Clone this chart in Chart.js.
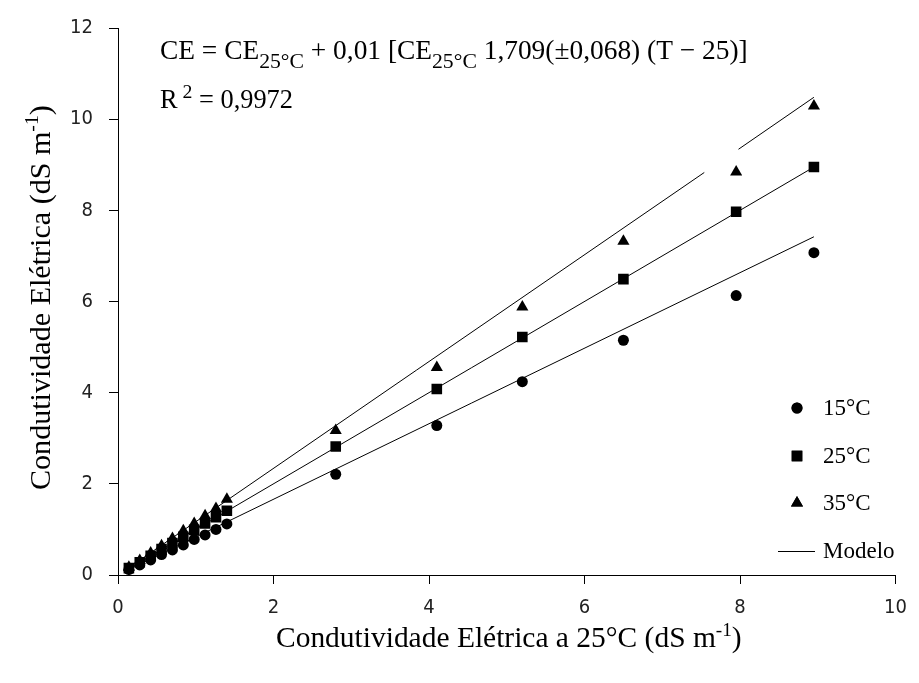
<!DOCTYPE html>
<html lang="pt">
<head>
<meta charset="UTF-8" />
<title>Condutividade Elétrica</title>
<script src="https://cdn.jsdelivr.net/npm/chart.js"></script>
<style>
  body { margin: 0; background: #fff; }
  canvas { display: block; }
</style>
</head>
<body>
<canvas id="ceChart" width="919" height="683"></canvas>
<script>
// CE a 25 °C (eixo x), igual para as tres temperaturas
const ce25x = [0.14, 0.28, 0.42, 0.56, 0.70, 0.84, 0.98, 1.12, 1.26, 1.40, 2.80, 4.10, 5.20, 6.50, 7.95, 8.95];
const ce15 = [0.12, 0.22, 0.33, 0.45, 0.55, 0.66, 0.78, 0.88, 1.00, 1.12, 2.21, 3.28, 4.24, 5.15, 6.13, 7.07];
const ce25 = [0.15, 0.28, 0.42, 0.57, 0.70, 0.84, 0.99, 1.13, 1.27, 1.41, 2.82, 4.08, 5.22, 6.49, 7.97, 8.95];
const ce35 = [0.17, 0.32, 0.48, 0.64, 0.80, 0.97, 1.13, 1.30, 1.46, 1.66, 3.17, 4.55, 5.88, 7.32, 8.84, 10.29];

// linhas do modelo (a de 35 °C tem um corte perto de x = 7,8)
const model15x = [0.14, 8.95];
const model15y = [0.12, 7.42];
const model25x = [0.14, 8.95];
const model25y = [0.14, 8.95];
const model35x = [0.14, 7.54, 7.76, 7.98, 8.95];
const model35y = [0.16, 8.83, null, 9.34, 10.48];

const xTicks = [0, 2, 4, 6, 8, 10];
const yTicks = [0, 2, 4, 6, 8, 10, 12];
const legendLabels = ['15°C', '25°C', '35°C', 'Modelo'];

const pts = (xs, ys) => xs.map((x, i) => ({ x: x, y: ys[i] }));
const SERIF = '"Liberation Serif", "Times New Roman", serif';
const TICKFONT = { family: '"DejaVu Sans Condensed", "Liberation Sans", Arial, sans-serif', size: 20 };

// texto com partes em indice / expoente
function richWidth(ctx, parts, scale) {
  let w = 0;
  parts.forEach(p => {
    ctx.font = (p.size * scale) + 'px ' + SERIF;
    w += ctx.measureText(p.t).width;
  });
  return w;
}
function drawRich(ctx, parts, x, y, targetW) {
  const scale = targetW ? targetW / richWidth(ctx, parts, 1) : 1;
  ctx.textBaseline = 'alphabetic';
  ctx.textAlign = 'left';
  parts.forEach(p => {
    ctx.font = (p.size * scale) + 'px ' + SERIF;
    ctx.fillText(p.t, x, y + (p.dy || 0) * scale);
    x += ctx.measureText(p.t).width;
  });
}

const textPlugin = {
  id: 'textPlugin',
  afterDraw(chart) {
    const ctx = chart.ctx;
    ctx.save();
    ctx.fillStyle = '#000';

    // equacao
    const sub = { size: 19, dy: 8 };
    drawRich(ctx, [
      { t: 'CE = CE', size: 24 }, Object.assign({ t: '25°C' }, sub),
      { t: ' + 0,01 [CE', size: 24 }, Object.assign({ t: '25°C' }, sub),
      { t: ' 1,709(±0,068) (T \u2212 25)]', size: 24 }
    ], 160, 59, 588);
    drawRich(ctx, [
      { t: 'R', size: 24 }, { t: ' 2', size: 18, dy: -9 }, { t: ' = 0,9972', size: 24 }
    ], 160, 108, 133);

    // titulo eixo x
    drawRich(ctx, [
      { t: 'Condutividade Elétrica a 25°C (dS m', size: 26 },
      { t: '-1', size: 17, dy: -10 }, { t: ')', size: 26 }
    ], 276, 647, 466);

    // titulo eixo y
    ctx.translate(50, 298);
    ctx.rotate(-Math.PI / 2);
    drawRich(ctx, [
      { t: 'Condutividade Elétrica (dS m', size: 26 },
      { t: '-1', size: 17, dy: -10 }, { t: ')', size: 26 }
    ], -192, 0, 385);
    ctx.setTransform(1, 0, 0, 1, 0, 0);

    // legenda
    const lx = 797, tx = 823;
    const rows = [408, 456, 503, 551];
    const styles = ['circle', 'rect', 'triangle'];
    const radii = [5.5, 7.5, 7];
    for (let i = 0; i < 3; i++) {
      Chart.helpers.drawPoint(ctx, { pointStyle: styles[i], radius: radii[i], borderWidth: 0 }, lx, rows[i]);
      ctx.fill();
    }
    ctx.strokeStyle = '#000';
    ctx.lineWidth = 1;
    ctx.beginPath();
    ctx.moveTo(778, rows[3] + 0.5);
    ctx.lineTo(815, rows[3] + 0.5);
    ctx.stroke();
    ctx.font = '23px ' + SERIF;
    ctx.textBaseline = 'middle';
    ctx.textAlign = 'left';
    legendLabels.forEach((t, i) => ctx.fillText(t, tx, rows[i] + 1));
    ctx.restore();
  }
};

const lineStyle = {
  type: 'line', showLine: true, borderColor: '#000', borderWidth: 1,
  pointRadius: 0, spanGaps: false, fill: false, order: 2
};

new Chart(document.getElementById('ceChart'), {
  type: 'scatter',
  data: {
    datasets: [
      { label: '15°C', data: pts(ce25x, ce15), pointStyle: 'circle', pointRadius: 5.5,
        backgroundColor: '#000', borderWidth: 0, order: 1 },
      { label: '25°C', data: pts(ce25x, ce25), pointStyle: 'rect', pointRadius: 7.5,
        backgroundColor: '#000', borderWidth: 0, order: 1 },
      { label: '35°C', data: pts(ce25x, ce35), pointStyle: 'triangle', pointRadius: 7,
        backgroundColor: '#000', borderWidth: 0, order: 1 },
      Object.assign({ label: 'Modelo', data: pts(model15x, model15y) }, lineStyle),
      Object.assign({ label: 'Modelo 25', data: pts(model25x, model25y) }, lineStyle),
      Object.assign({ label: 'Modelo 35', data: pts(model35x, model35y) }, lineStyle)
    ]
  },
  options: {
    responsive: false,
    animation: false,
    layout: { padding: { top: 21, right: 12, left: 0, bottom: 0 } },
    plugins: { legend: { display: false }, tooltip: { enabled: false } },
    scales: {
      x: {
        type: 'linear', min: 0, max: 10,
        afterBuildTicks: s => { s.ticks = xTicks.map(v => ({ value: v })); },
        afterFit: s => { s.height = 108; },
        ticks: { color: '#222', padding: 12, font: TICKFONT },
        grid: { drawOnChartArea: false, tickLength: 9, color: '#000' },
        border: { color: '#000', width: 1 }
      },
      y: {
        type: 'linear', min: 0, max: 12,
        afterBuildTicks: s => { s.ticks = yTicks.map(v => ({ value: v })); },
        afterFit: s => { s.width = 118; },
        ticks: { color: '#222', padding: 16, font: TICKFONT },
        grid: { drawOnChartArea: false, tickLength: 9, color: '#000' },
        border: { color: '#000', width: 1 }
      }
    }
  },
  plugins: [textPlugin]
});
</script>
</body>
</html>
